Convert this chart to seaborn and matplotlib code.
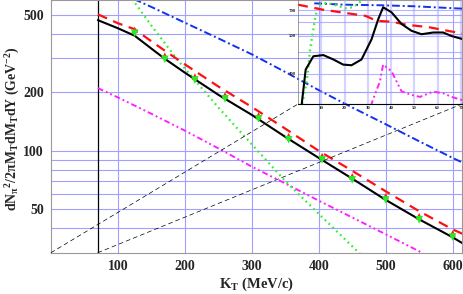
import matplotlib
matplotlib.use('Agg')
import matplotlib.pyplot as plt
import seaborn as sns
from matplotlib.patches import ConnectionPatch

# main panel: pion spectra vs K_T (MeV/c)
kt_black = [70, 100, 125, 150, 170, 200, 250, 300, 350, 400, 450, 500, 550, 600, 615]
y_black = [469, 426, 390, 335, 297, 252, 194, 153, 118, 92, 72, 56, 44.5, 36, 33.5]
kt_red = [70, 100, 125, 150, 170, 200, 250, 300, 350, 400, 450, 500, 550, 600, 615]
y_red = [502, 452, 421, 365, 327, 278, 214, 168, 130, 100, 79, 62, 49, 39.5, 37.5]
kt_green = [120, 150, 189, 250, 300, 350, 400, 462]
y_green = [610, 440, 293, 167, 108, 70, 47.5, 29.5]
kt_blue = [120, 150, 200, 250, 300, 350, 400, 450, 500, 550, 600, 615]
y_blue = [610, 548, 455, 378, 313, 254, 205, 167, 137, 112, 92, 87]
kt_magenta = [70, 100, 150, 200, 250, 300, 350, 400, 450, 500, 550, 560]
y_magenta = [210, 188, 155, 127, 103, 83, 68, 55.5, 45.5, 37.3, 30.5, 29]

# measured points
kt_data = [125, 170, 215, 260, 310, 355, 405, 450, 500, 550, 600]
y_data_green = [401, 295, 231, 185, 146, 114, 90, 71, 56, 44.3, 36.1]
y_data_red = [418, 308, 241, 193, 152, 119, 94, 74, 58.5, 46.2, 37.7]

# inset curves
in_x_black = [1.6, 3.3, 6.6, 10.9, 15.2, 19.4, 23, 27.3, 31.6, 34.5, 36.6, 40.2, 44.5, 48.8, 53.1, 58.1, 62.4, 66, 70.5]
in_y_black = [200, 317, 379, 385, 363, 339, 336, 363, 475, 623, 730, 683, 584, 533, 509, 521, 521, 497, 478]
in_x_red = [0, 10.7, 29, 33.8, 40.2, 47, 56, 70.5]
in_y_red = [756, 707, 651, 609, 602, 577, 560, 514]
in_x_blue = [7, 20, 36, 50, 70.5]
in_y_blue = [770, 756, 750, 740, 717]
in_x_green = [1.8, 3.7, 5.2, 7.3, 8.7, 10.9, 15.2, 20.2, 23.8, 26.6, 28.5]
in_y_green = [200, 264, 415, 623, 748, 775, 760, 721, 731, 782, 830]
in_x_magenta = [31.3, 33, 35.2, 36.6, 40.2, 44.5, 48.8, 52.4, 58.1, 62.4, 66, 70.5]
in_y_magenta = [195, 226, 270, 339, 310, 237, 226, 220, 236, 231, 220, 211]

x_ticks = [100, 200, 300, 400, 500, 600]
y_grid = [40, 50, 60, 70, 80, 90, 100, 200, 300, 400, 500]
y_labels = ['', '50', '', '', '', '', '100', '200', '', '', '500']
in_x_ticks = [10, 20, 30, 40, 50, 60, 70]
in_y_grid = [200, 300, 400, 500, 600, 700]
in_y_labels = ['', '300', '', '500', '', '700']

sns.set_theme(style='white')
plt.rcParams['font.family'] = ['Liberation Serif', 'DejaVu Serif']
plt.rcParams['font.weight'] = 'bold'
plt.rcParams['mathtext.fontset'] = 'custom'
plt.rcParams['mathtext.rm'] = 'Liberation Serif:bold'
plt.rcParams['mathtext.it'] = 'Liberation Serif:bold'
plt.rcParams['mathtext.bf'] = 'Liberation Serif:bold'

grid_col = '#a0a0ff'
frame_col = '#999999'

fig = plt.figure(figsize=(4.63, 2.94), dpi=100)
ax = fig.add_axes([51 / 463, 1 - 252.7 / 294, 411 / 463, 252.7 / 294])

styles = {
    'black': dict(color='black', linewidth=1.5, linestyle='-'),
    'red': dict(color='#ff1010', linewidth=1.6, linestyle=(0, (4.5, 3))),
    'green': dict(color='#33ee33', linewidth=1.6, linestyle=(0, (0.8, 1.6))),
    'blue': dict(color='#1133ee', linewidth=1.4, linestyle=(0, (4, 1.5, 1, 1.5))),
    'magenta': dict(color='#ff22ff', linewidth=1.4, linestyle=(0, (3, 1.5, 1, 1.5, 1, 1.5))),
}

for xs, ys, key in [(kt_magenta, y_magenta, 'magenta'), (kt_blue, y_blue, 'blue'),
                    (kt_green, y_green, 'green'), (kt_red, y_red, 'red'),
                    (kt_black, y_black, 'black')]:
    sns.lineplot(x=xs, y=ys, ax=ax, sort=False, estimator=None, **styles[key])

sns.scatterplot(x=kt_data, y=y_data_red, ax=ax, marker='^', s=22, color='#ff2020',
                edgecolor='none', zorder=5)
sns.scatterplot(x=kt_data, y=y_data_green, ax=ax, marker='v', s=30, color='#22ee22',
                edgecolor='none', zorder=6)

ax.set_yscale('log')
ax.set_xlim(0, 614)
ax.set_ylim(30, 595)
ax.axvline(70, color='black', linewidth=0.9, zorder=1)

ax.set_xticks(x_ticks)
ax.set_xticklabels([str(v) for v in x_ticks])
ax.set_yticks(y_grid)
ax.set_yticklabels(y_labels)
ax.yaxis.set_minor_locator(plt.NullLocator())
ax.set_xticks(range(20, 614, 20), minor=True)
for v in x_ticks:
    ax.axvline(v, color=grid_col, linewidth=0.8, zorder=0)
for v in y_grid:
    ax.axhline(v, color=grid_col, linewidth=0.8, zorder=0)
ax.tick_params(axis='both', which='major', labelsize=10, direction='in', length=3,
               color=frame_col, pad=5)
ax.tick_params(axis='x', which='minor', direction='in', length=1.5, color=frame_col)
for s in ax.spines.values():
    s.set_color(frame_col)
    s.set_linewidth(0.8)

ax.set_xlabel('K$_\\mathrm{T}$ (MeV/c)', fontsize=10.5, fontweight='bold')
ax.set_ylabel('dN$_\\pi$$^2$/2$\\pi$M$_\\mathrm{T}$dM$_\\mathrm{T}$dY (GeV$^{-2}$)',
              fontsize=10, fontweight='bold')
ax.xaxis.set_label_coords(0.5, -0.09)
ax.yaxis.set_label_coords(-0.07, 0.49)

# inset
ins = fig.add_axes([298 / 463, 1 - 104 / 294, 164 / 463, 104 / 294])
ins.patch.set_alpha(0)
for xs, ys, key in [(in_x_magenta, in_y_magenta, 'magenta'), (in_x_blue, in_y_blue, 'blue'),
                    (in_x_green, in_y_green, 'green'), (in_x_red, in_y_red, 'red'),
                    (in_x_black, in_y_black, 'black')]:
    sns.lineplot(x=xs, y=ys, ax=ins, sort=False, estimator=None, **styles[key])
ins.set_yscale('log')
ins.set_xlim(0, 70.5)
ins.set_ylim(200, 805)
ins.set_xticks(in_x_ticks)
ins.set_xticklabels([str(v) for v in in_x_ticks])
ins.set_yticks(in_y_grid)
ins.set_yticklabels(in_y_labels)
ins.yaxis.set_minor_locator(plt.NullLocator())
for v in in_x_ticks:
    ins.axvline(v, color=grid_col, linewidth=1.6, alpha=0.45, zorder=0)
for v in in_y_grid:
    ins.axhline(v, color=grid_col, linewidth=0.8, alpha=0.8, zorder=0)
ins.tick_params(axis='both', labelsize=3.5, direction='in', length=1.5, pad=1.5,
                color='#555555')
for side in ['top', 'right']:
    ins.spines[side].set_visible(False)
ins.spines['bottom'].set_color('black')
ins.spines['bottom'].set_linewidth(0.8)
ins.spines['left'].set_color('#777777')
ins.spines['left'].set_linewidth(0.5)

# dashed connectors from the main frame corner / x=70 axis to the inset corners
connectors = [((0, 0), ax.transAxes, (0, 0)),
              ((70, 30), ax.transData, (1, 0))]
for xy_main, trans_main, xy_in in connectors:
    con = ConnectionPatch(xyA=xy_main, coordsA=trans_main, xyB=xy_in,
                          coordsB=ins.transAxes, color='black', linewidth=0.5,
                          linestyle=(0, (6, 5)))
    fig.add_artist(con)

fig.savefig('out.png', dpi=100)
